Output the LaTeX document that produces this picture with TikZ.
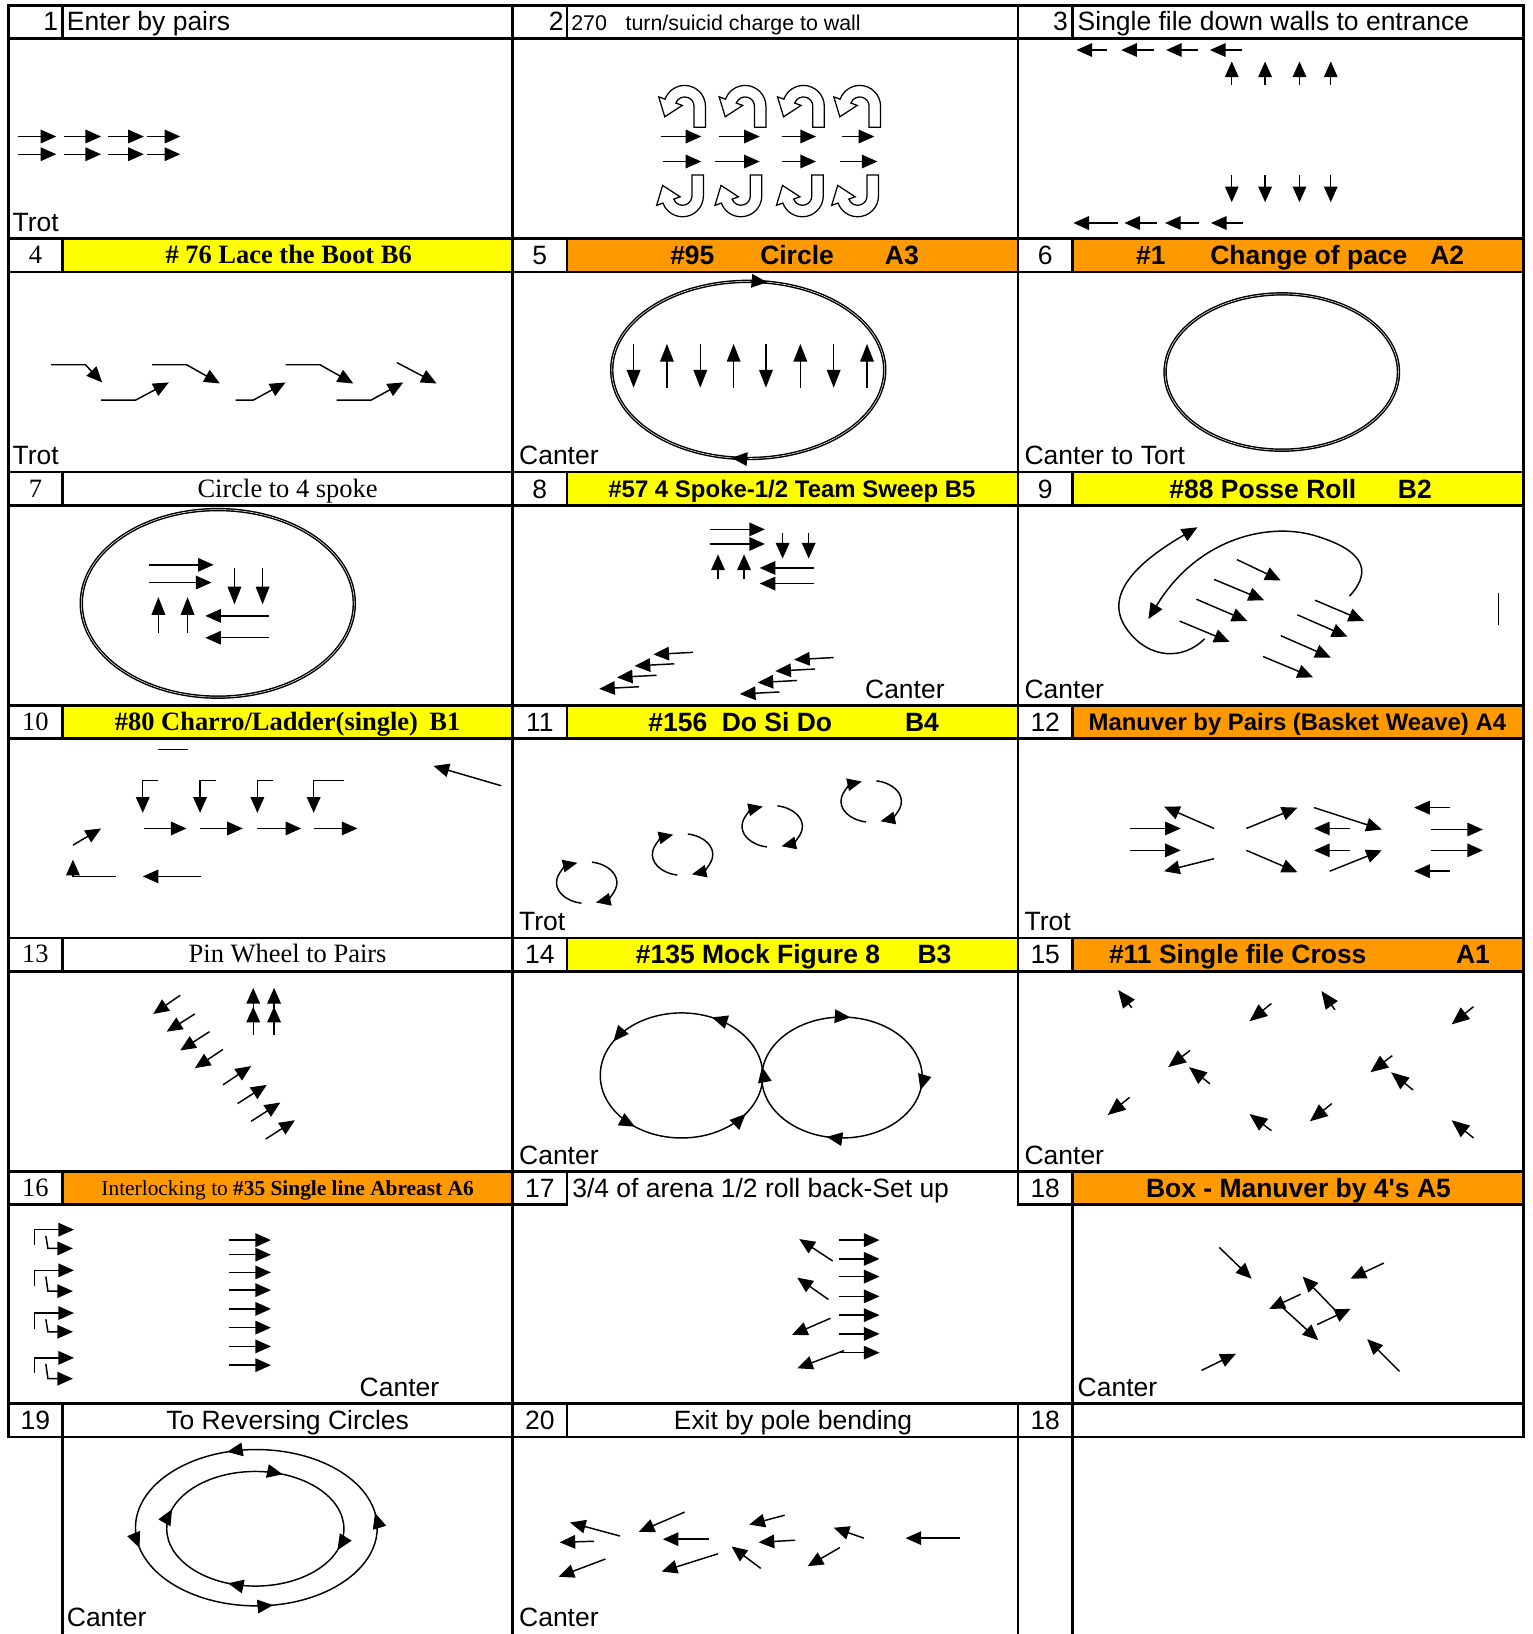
\documentclass[tikz,border=0pt]{standalone}
\usepackage{fontspec}
\setmainfont{Liberation Serif}
\setsansfont{Liberation Sans}
\usetikzlibrary{arrows.meta}
\definecolor{hdyellow}{HTML}{FFFF00}
\definecolor{hdorange}{HTML}{FF9900}
\newcommand\cellsize{\fontsize{25.4}{30}\selectfont}
\tikzset{
  uturn/.pic={\draw[line width=1.2pt,fill=white] (48,0) -- (48,20) arc[start angle=0,end angle=160,radius=20]
    -- (3.1,29.06) -- (8.9,9.92) -- (25.65,20.86) -- (19.54,23.08) arc[start angle=160,end angle=0,radius=9]
    -- (37,0) -- cycle;}
}
\begin{document}
\begin{tikzpicture}[x=1pt,y=-1pt,
  rule/.style={line width=2.6pt,line cap=rect},
  lbl/.style={font=\sffamily\cellsize,inner sep=0pt,anchor=base west},
  ctrsf/.style={font=\sffamily\cellsize,inner sep=0pt,anchor=base},
  ctrrm/.style={font=\rmfamily\cellsize,inner sep=0pt,anchor=base},
  ttlsf/.style={font=\sffamily\bfseries\cellsize,inner sep=0pt,anchor=base},
  ttlrm/.style={font=\rmfamily\bfseries\cellsize,inner sep=0pt,anchor=base},
  arr/.style={-{Triangle[length=15pt,width=13pt]},line width=1.4pt},
  bigarr/.style={-{Triangle[length=17pt,width=13pt]},line width=1.4pt},
  smallarr/.style={-{Triangle[length=14pt,width=12pt]},line width=1.4pt},
  oval/.style={line width=1.4pt,double,double distance=0.5pt},
  track/.style={line width=1.4pt}]

\useasboundingbox (0,0) rectangle (1471,1568);
\fill[white] (0,0) rectangle (1471,1568);

% header fills
\fill[hdyellow] (60,229) rectangle (492,261);
\fill[hdorange] (544,229) rectangle (977,261);
\fill[hdorange] (1029,229) rectangle (1462,261);
\fill[hdyellow] (544,453) rectangle (977,485);
\fill[hdyellow] (1029,453) rectangle (1462,485);
\fill[hdyellow] (60,677) rectangle (492,709);
\fill[hdyellow] (544,677) rectangle (977,709);
\fill[hdorange] (1029,677) rectangle (1462,709);
\fill[hdyellow] (544,900) rectangle (977,932);
\fill[hdorange] (1029,900) rectangle (1462,932);
\fill[hdorange] (60,1124) rectangle (492,1156);
\fill[hdorange] (1029,1124) rectangle (1462,1156);

% grid
\foreach \y in {5,37,229,261,453,485,677,709,900,932,1124,1347,1379}
  \draw[rule] (8,\y) -- (1462,\y);
\draw[rule] (8,1156) -- (544,1156);
\draw[rule] (977,1156) -- (1462,1156);
\draw[rule] (8,5) -- (8,1379);
\draw[rule] (1462,5) -- (1462,1379);
\draw[rule] (492,5) -- (492,1568);
\draw[rule] (977,5) -- (977,1156);
\draw[rule] (977,1347) -- (977,1568);
\draw[rule] (1029,1124) -- (1029,1568);
\draw[rule] (60,1347) -- (60,1568);
\foreach \ya/\yb in {5/37,229/261,453/485,677/709,900/932,1124/1156,1347/1379} {
  \draw[rule] (60,\ya) -- (60,\yb);
  \draw[rule] (544,\ya) -- (544,\yb);
}
\foreach \ya/\yb in {5/37,229/261,453/485,677/709,900/932}
  \draw[rule] (1029,\ya) -- (1029,\yb);

% titles
\node[ctrsf,anchor=base east] (n1) at (56,29) {1};
\node[lbl] (t1) at (64,29) {Enter by pairs};
\node[ctrsf,anchor=base east] (n2) at (541,29) {2};
\node[lbl,font=\sffamily\fontsize{20.5}{24}\selectfont] (t2) at (548,29) {270\hspace{18pt}turn/suicid charge to wall};
\node[ctrsf,anchor=base east] (n3) at (1025,29) {3};
\node[lbl] (t3) at (1034,29) {Single file down walls to entrance};

\node[ctrrm] (n4) at (34,253) {4};
\node[ttlrm] (t4) at (277,253) {\# 76 Lace the Boot B6};
\node[ctrsf] (n5) at (518,254) {5};
\node[ttlsf,anchor=base west] (t5) at (643,254) {\#95\hspace{44pt}Circle\hspace{49pt}A3};
\node[ctrsf] (n6) at (1003,254) {6};
\node[ttlsf,anchor=base west] (t6) at (1090,254) {\#1\hspace{43pt}Change of pace\hspace{22pt}A2};

\node[ctrrm] (n7) at (34,477) {7};
\node[ctrrm] (t7) at (276,477) {Circle to 4 spoke};
\node[ctrsf] (n8) at (518,478) {8};
\node[ttlsf,font=\sffamily\bfseries\fontsize{23}{27}\selectfont] (t8) at (760,477) {\#57 4 Spoke-1/2 Team Sweep B5};
\node[ctrsf] (n9) at (1003,478) {9};
\node[ttlsf,anchor=base west] (t9) at (1122,478) {\#88 Posse Roll\hspace{40pt}B2};

\node[ctrrm] (n10) at (34,701) {10};
\node[ttlrm] (t10) at (276,701) {\#80 Charro/Ladder(single)\hspace{11pt}B1};
\node[ctrsf] (n11) at (518,702) {11};
\node[ttlsf,anchor=base west] (t11) at (622,702) {\#156\hspace{14pt}Do Si Do\hspace{70pt}B4};
\node[ctrsf] (n12) at (1003,702) {12};
\node[ttlsf,font=\sffamily\bfseries\fontsize{22.9}{27}\selectfont] (t12) at (1245,701) {Manuver by Pairs (Basket Weave) A4};

\node[ctrrm] (n13) at (34,924) {13};
\node[ctrrm] (t13) at (276,924) {Pin Wheel to Pairs};
\node[ctrsf] (n14) at (518,925) {14};
\node[ttlsf,anchor=base west] (t14) at (610,925) {\#135 Mock Figure 8\hspace{36pt}B3};
\node[ctrsf] (n15) at (1003,925) {15};
\node[ttlsf,anchor=base west] (t15) at (1064,925) {\#11 Single file Cross\hspace{86pt}A1};

\node[ctrrm] (n16) at (34,1148) {16};
\node[ctrrm,font=\rmfamily\fontsize{20.5}{24}\selectfont] (t16) at (276,1147) {Interlocking to \textbf{\#35 Single line Abreast A6}};
\node[ctrsf] (n17) at (518,1149) {17};
\node[lbl] (t17) at (549,1149) {3/4 of arena 1/2 roll back-Set up};
\node[ctrsf] (n18) at (1003,1149) {18};
\node[ttlsf] (t18) at (1246,1149) {Box - Manuver by 4\textquotesingle s A5};

\node[ctrsf] (n19) at (34,1372) {19};
\node[ctrsf] (t19) at (276,1372) {To Reversing Circles};
\node[ctrsf] (n20) at (518,1372) {20};
\node[ctrsf] (t20) at (761,1372) {Exit by pole bending};
\node[ctrsf] (n18b) at (1003,1372) {18};

% gait labels
\node[lbl] (g1) at (12,222) {Trot};
\node[lbl] (g4) at (12,446) {Trot};
\node[lbl] (g5) at (498,446) {Canter};
\node[lbl] (g6) at (983,446) {Canter to Tort};
\node[lbl] (g8) at (830,670) {Canter};
\node[lbl] (g9) at (983,670) {Canter};
\node[lbl] (g11) at (498,893) {Trot};
\node[lbl] (g12) at (983,893) {Trot};
\node[lbl] (g14) at (498,1117) {Canter};
\node[lbl] (g15) at (983,1117) {Canter};
\node[lbl] (g16) at (345,1340) {Canter};
\node[lbl] (g18) at (1034,1340) {Canter};
\node[lbl] (g19) at (64,1561) {Canter};
\node[lbl] (g20) at (498,1561) {Canter};

% 1 enter by pairs
\foreach \y in {131,148}
  \foreach \xa/\xb in {17/54,61/97,104/138,141/173}
    \draw[arr] (\xa,\y) -- (\xb,\y);

% 2 turn and charge
\foreach \xx in {629,687,743,797}
  \pic[yscale=-1] at (\xx,122) {uturn};
\foreach \xx in {627,683,742,795}
  \pic at (\xx,168) {uturn};
\foreach \xa/\xb in {634/673,690/729,750/783,808/839}
  \draw[arr] (\xa,131) -- (\xb,131);
\foreach \xa/\xb in {636/673,686/729,750/783,806/842}
  \draw[arr] (\xa,155) -- (\xb,155);

% 3 single file
\foreach \xa/\xb in {1062/1033,1107/1076,1150/1119,1192/1161}
  \draw[arr] (\xa,48) -- (\xb,48);
\foreach \xa/\xb in {1073/1030,1110/1079,1151/1118,1193/1162}
  \draw[arr] (\xa,214) -- (\xb,214);
\foreach \xx in {1182,1214,1247,1277} {
  \draw[arr] (\xx,82) -- (\xx,59);
  \draw[arr] (\xx,168) -- (\xx,194);
}

% 4 lace the boot
\draw[arr] (49,350) -- (82,350) -- (98,367);
\draw[arr] (97,384) -- (130,384) -- (162,367);
\draw[arr] (146,350) -- (179,350) -- (211,368);
\draw[arr] (226,384) -- (243,384) -- (274,367);
\draw[arr] (274,350) -- (307,350) -- (339,368);
\draw[arr] (323,384) -- (356,384) -- (387,367);
\draw[arr] (381,348) -- (419,368);

% 5 circle
\draw[oval] (718,355) ellipse[x radius=131,y radius=85];
\foreach \a in {278,97}
  \draw[arr] ([shift={({\a-7}:131 and 85)}]718,355) arc[start angle=\a-7,end angle=\a,x radius=131,y radius=85];
\foreach \xx in {608,672,735,800}
  \draw[bigarr] (\xx,330) -- (\xx,372);
\foreach \xx in {640,704,768,832}
  \draw[bigarr] (\xx,372) -- (\xx,330);

% 6 change of pace
\draw[oval] (1230,357) ellipse[x radius=112,y radius=75];

% 7 circle to 4 spoke
\draw[oval] (209,579) ellipse[x radius=131,y radius=90];
\draw[arr] (143,542) -- (205,542);
\draw[arr] (143,559) -- (203,559);
\draw[bigarr] (225,545) -- (225,580);
\draw[bigarr] (252,545) -- (252,580);
\draw[bigarr] (152,607) -- (152,573);
\draw[bigarr] (180,607) -- (180,573);
\draw[arr] (258,591) -- (197,591);
\draw[arr] (258,612) -- (197,612);

% 8 spoke sweep
\draw[arr] (681,508) -- (734,508);
\draw[arr] (681,522) -- (734,522);
\draw[arr] (689,556) -- (689,532);
\draw[arr] (714,556) -- (714,532);
\draw[arr] (751,511) -- (751,536);
\draw[arr] (776,511) -- (776,536);
\draw[arr] (781,545) -- (729,545);
\draw[arr] (781,560) -- (729,560);
\foreach \dx/\dy in {0/0,135/5}
  \foreach \xa/\ya/\xb/\yb in {613/659/575/661,630/648/592/650,647/637/609/639,665/626/627/628}
    \draw[arr] (\xa+\dx,\ya+\dy) -- (\xb+\dx,\yb+\dy);

% 9 posse roll
\draw[arr] (1156,613) .. controls (1135,634) and (1103,632) .. (1083,606)
  .. controls (1060,577) and (1080,546) .. (1149,506);
\draw[arr] (1295,572) .. controls (1320,545) and (1303,527) .. (1265,515)
  .. controls (1220,500) and (1150,515) .. (1102,594);
\foreach \xa/\ya/\xb/\yb in {1187/537/1229/557,1165/556/1213/576,1148/575/1197/596,1132/596/1180/616,
    1262/576/1309/596,1245/590/1293/611,1229/610/1277/631,1212/630/1260/650}
  \draw[arr] (\xa,\ya) -- (\xb,\yb);
\draw[line width=1.4pt] (1438,569) -- (1438,600);

% 10 charro ladder
\draw[line width=1.4pt] (152,719) -- (180,719);
\draw[arr] (481,754) -- (416,735);
\foreach \xa/\xb in {137/152,192/207,247/262,301/330}
  \draw[arr] (\xb,749) -- (\xa,749) -- (\xa,780);
\foreach \xa/\xb in {138/179,192/233,247/289,301/343}
  \draw[arr] (\xa,795) -- (\xb,795);
\draw[arr] (70,811) -- (97,795);
\draw[arr] (111,841) -- (70,841) -- (70,825);
\draw[arr] (193,841) -- (137,841);

% 11 do si do
\foreach \cx/\cy in {563/847,655/820,741/793,836/769} {
  \draw[smallarr] ([shift={(100:29 and 20)}]\cx,\cy) arc[start angle=100,end angle=252,x radius=29,y radius=20];
  \draw[smallarr] ([shift={(280:29 and 20)}]\cx,\cy) arc[start angle=280,end angle=432,x radius=29,y radius=20];
}

% 12 basket weave
\foreach \xa/\ya/\xb/\yb in {1084/795/1133/795,1084/816/1133/816,1165/795/1117/774,1165/824/1117/836,
    1196/795/1245/775,1196/816/1245/837,1261/775/1326/796,1276/836/1326/816,
    1295/795/1261/795,1295/816/1261/816,1391/775/1357/775,1391/836/1357/836,
    1373/796/1423/796,1373/816/1423/816}
  \draw[arr] (\xa,\ya) -- (\xb,\yb);

% 13 pin wheel
\foreach \xa/\ya/\xb/\yb in {173/955/147/973,187/973/160/990,201/990/173/1008,214/1007/187/1025,
    214/1041/241/1023,228/1059/256/1041,241/1076/269/1058,255/1093/283/1075}
  \draw[arr] (\xa,\ya) -- (\xb,\yb);
\foreach \xx in {243,263} {
  \draw[arr] (\xx,993) -- (\xx,966);
  \draw[arr] (\xx,968) -- (\xx,948);
}

% 14 mock figure 8
\draw[track] (654,1032) ellipse[x radius=78,y radius=60];
\draw[track] (808,1034) ellipse[x radius=77,y radius=58];
\foreach \a in {38,-8,-68,-147,-235}
  \draw[arr] ([shift={({\a+8}:78 and 60)}]654,1032) arc[start angle=\a+8,end angle=\a,x radius=78,y radius=60];
\foreach \a in {276,12,101}
  \draw[arr] ([shift={({\a-8}:77 and 58)}]808,1034) arc[start angle=\a-8,end angle=\a,x radius=77,y radius=58];

% 15 single file cross
\foreach \xa/\ya/\xb/\yb in {1086/967/1073/950,1220/963/1199/980,1281/969/1268/951,1414/966/1393/983,
    1142/1008/1121/1024,1161/1040/1141/1024,1336/1013/1315/1029,1356/1046/1335/1029,
    1084/1053/1063/1070,1220/1085/1199/1069,1278/1059/1257/1076,1414/1092/1393/1075}
  \draw[-{Triangle[length=17pt,width=14pt]},line width=1.4pt] (\xa,\ya) -- (\xb,\yb);

% 16 interlocking
\foreach \ta/\tb in {1180/1198,1219/1239,1260/1278,1303/1323} {
  \draw[arr] (33,\ta+15) -- (33,\ta) -- (71,\ta);
  \draw[arr] (44,\ta+6) -- (46,\tb) -- (70,\tb);
}
\foreach \y in {1190,1204,1221,1238,1256,1274,1292,1310}
  \draw[arr] (220,\y) -- (260,\y);

% 17 roll back
\foreach \y in {1190,1208,1225,1244,1262,1280,1298}
  \draw[arr] (805,\y) -- (844,\y);
\foreach \xa/\ya/\xb/\yb in {799/1210/767/1189,795/1247/765/1226,797/1265/760/1281,810/1296/765/1313}
  \draw[arr] (\xa,\ya) -- (\xb,\yb);

% 18 box
\foreach \xa/\ya/\xb/\yb in {1170/1197/1201/1227,1328/1212/1296/1227,1281/1257/1250/1225,1248/1242/1218/1256,
    1231/1255/1265/1286,1264/1271/1296/1256,1153/1315/1186/1299,1343/1316/1312/1285}
  \draw[arr] (\xa,\ya) -- (\xb,\yb);

% 19 reversing circles
\draw[track] (246,1466) ellipse[x radius=116,y radius=75];
\draw[track] (245,1467) ellipse[x radius=85,y radius=55];
\foreach \a in {-104,-195,-278,-11}
  \draw[arr] ([shift={({\a+7}:116 and 75)}]246,1466) arc[start angle=\a+7,end angle=\a,x radius=116,y radius=75];
\foreach \a in {288,22,108,200}
  \draw[arr] ([shift={({\a-9}:85 and 55)}]245,1467) arc[start angle=\a-9,end angle=\a,x radius=85,y radius=55];

% 20 pole bending
\foreach \xa/\ya/\xb/\yb in {595/1474/547/1461,570/1479/537/1480,581/1496/536/1513,657/1451/613/1470,
    680/1477/636/1477,689/1491/635/1508,753/1454/719/1463,763/1478/728/1480,
    730/1505/702/1484,829/1476/800/1466,806/1485/775/1503,921/1476/869/1476}
  \draw[arr] (\xa,\ya) -- (\xb,\yb);
\end{tikzpicture}
\end{document}
